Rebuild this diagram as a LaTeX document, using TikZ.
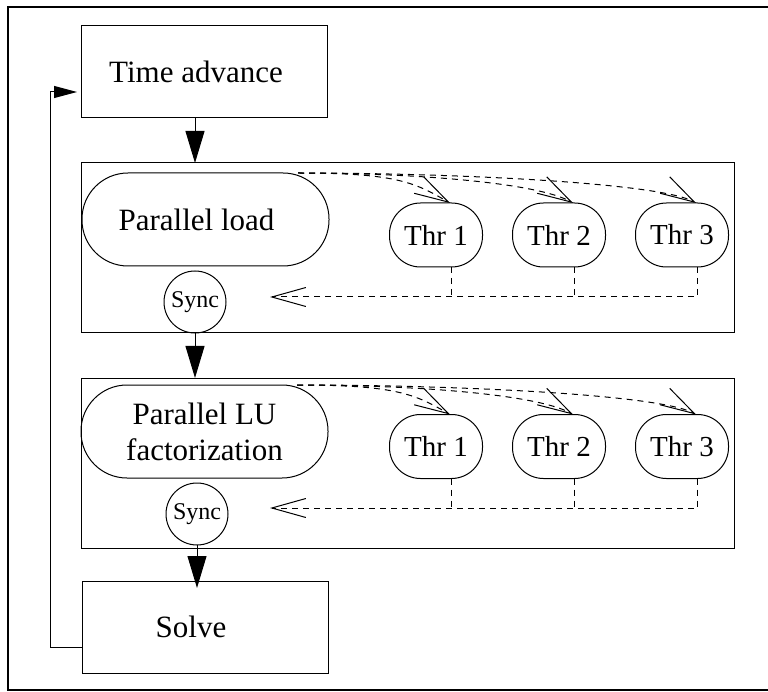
\documentclass[tikz,border=0pt]{standalone}
\usepackage{fontspec}
\setmainfont{Liberation Serif}
\usetikzlibrary{positioning}
\usetikzlibrary{arrows.meta}

\begin{document}
\begin{tikzpicture}[x=1pt, y=1pt, every node/.style={inner sep=0, outer sep=0, font=\fontsize{31}{36}\selectfont}, align=center, node distance=30pt, line width=1pt,
		box/.style={draw, minimum width=246pt, minimum height=92pt},
		panel/.style={draw, minimum width=653pt, minimum height=170pt},
		pill/.style={draw, rounded corners=46pt, minimum width=247pt, minimum height=93pt},
		thr/.style={draw, rounded corners=31pt, minimum width=93pt, minimum height=64pt, font=\fontsize{29}{32}\selectfont},
		sync/.style={draw, circle, minimum size=62pt, font=\fontsize{24}{26}\selectfont},
		bigtip/.style={-{Triangle[length=32pt,width=19pt]}},
		smalltip/.style={-{Triangle[length=23pt,width=12pt]}},
		opentip/.style={dash pattern=on 6pt off 5pt, -{Straight Barb[length=34pt,width=19pt]}}]
		
		\useasboundingbox (0,0) rectangle (768,-692);
		\draw[line width=2.5pt] (772,-7) -| (8,-690) -- (772,-690);
		
		%Nodes
		\node[box] (1) at (204,-72) {\hspace*{-16pt}Time advance};
		\node[panel] (2) at (407.5,-248) {};
		\node[pill] (21) at (205.5,-219.5) {\hspace*{-18pt}Parallel load};
		\node[sync] (22) at (195,-302) {Sync};
		\node[thr] (23) at (436,-235) {Thr 1};
		\node[thr] (24) [right=of 23] {Thr 2};
		\node[thr] (25) [right=of 24] {Thr 3};
		
		\node[panel] (3) [below=45pt of 2] {};
		\node[pill] (31) at (204.5,-431.5) {Parallel LU\\factorization};
		\node[sync] (32) at (197,-514) {Sync};
		\node[thr] (33) at (436,-446.5) {Thr 1};
		\node[thr] (34) [right=of 33] {Thr 2};
		\node[thr] (35) [right=of 34] {Thr 3};
		
		\node[box] (4) [below=33pt of 3.south west, anchor=north west, xshift=1] {\hspace*{-28pt}Solve};
		
		\coordinate (back2) at (270,-297);
		\coordinate (back3) at (270,-508);
		\coordinate (loop) at (50,-92);
		
		%Lines
		\draw[bigtip] (1.south -| 22) -- (22 |- 2.north);
		\draw[bigtip] (22.south) -- (22.south |- 3.north);
		\draw[bigtip, shorten >=-7pt] (32.south) -- (32.south |- 4.north);
		\draw[smalltip] ([yshift=-20]4.west) -| (loop) -- ([shift={(-4,-20)}]1.west);
		
		\draw[opentip] ([xshift=-31]21.north east) .. controls +(right:100pt) and +(150:40pt) .. ([xshift=14]23.north);
		\draw[opentip] ([xshift=-31]21.north east) .. controls +(right:120pt) and +(150:40pt) .. ([xshift=14]24.north);
		\draw[opentip] ([xshift=-31]21.north east) .. controls +(right:160pt) and +(150:40pt) .. ([xshift=14]25.north);
		\draw[opentip] ([xshift=15]25.south) |- (back2);
		\draw[dash pattern=on 6pt off 5pt] ([xshift=15]23.south) -- ([xshift=15]23.south |- back2);
		\draw[dash pattern=on 6pt off 5pt] ([xshift=15]24.south) -- ([xshift=15]24.south |- back2);
		
		\draw[opentip] ([xshift=-31]31.north east) .. controls +(right:100pt) and +(150:40pt) .. ([xshift=14]33.north);
		\draw[opentip] ([xshift=-31]31.north east) .. controls +(right:120pt) and +(150:40pt) .. ([xshift=14]34.north);
		\draw[opentip] ([xshift=-31]31.north east) .. controls +(right:160pt) and +(150:40pt) .. ([xshift=14]35.north);
		\draw[opentip] ([xshift=15]35.south) |- (back3);
		\draw[dash pattern=on 6pt off 5pt] ([xshift=15]33.south) -- ([xshift=15]33.south |- back3);
		\draw[dash pattern=on 6pt off 5pt] ([xshift=15]34.south) -- ([xshift=15]34.south |- back3);
	\end{tikzpicture}
\end{document}
